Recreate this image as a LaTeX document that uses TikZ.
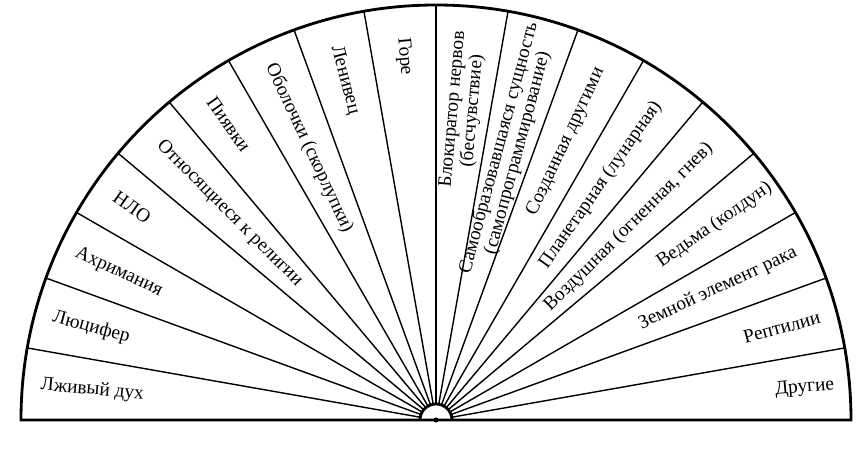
\documentclass[tikz,border=0pt]{standalone}
\usepackage{fontspec}
\setmainfont{Liberation Serif}
\usetikzlibrary{calc}
\tikzset{
  rim/.style={line width=1.6pt},
  spoke/.style={line width=0.8pt},
  sectorlabel/.style={font=\fontsize{11}{10}\selectfont, inner sep=1pt, align=center},
}

\begin{document}
\begin{tikzpicture}
			%%%%% FRAME %%%%%
			\useasboundingbox (-8.72, -0.72) rectangle (8.58, 8.4);
			
			\draw[rim] (-8.3, 0) -- (8.3, 0) arc (0:180:8.3) -- cycle;
			\draw[rim] (0.32, 0) arc (0:180:0.32);
			\fill (0, 0) circle (0.05);
			
			%%%%% SPOKES %%%%%
			\draw[spoke] (10:0.32) -- (10:8.3);
			\draw[spoke] (20:0.32) -- (20:8.3);
			\draw[spoke] (30:0.32) -- (30:8.3);
			\draw[spoke] (40:0.32) -- (40:8.3);
			\draw[spoke] (50:0.32) -- (50:8.3);
			\draw[spoke] (60:0.32) -- (60:8.3);
			\draw[spoke] (70:0.32) -- (70:8.3);
			\draw[spoke] (80:0.32) -- (80:8.3);
			\draw[spoke] (90:0.32) -- (90:8.3);
			\draw[spoke] (100:0.32) -- (100:8.3);
			\draw[spoke] (110:0.32) -- (110:8.3);
			\draw[spoke] (120:0.32) -- (120:8.3);
			\draw[spoke] (130:0.32) -- (130:8.3);
			\draw[spoke] (140:0.32) -- (140:8.3);
			\draw[spoke] (150:0.32) -- (150:8.3);
			\draw[spoke] (160:0.32) -- (160:8.3);
			\draw[spoke] (170:0.32) -- (170:8.3);
			
			%%%%% LEFT HALF %%%%%
			\node[sectorlabel, rotate=-5] (lzhivyj) at (175:6.9) {Лживый дух};
			\node[sectorlabel, rotate=-15] (lyucifer) at (165:7.14) {Люцифер};
			\node[sectorlabel, rotate=-25] (ahrimaniya) at (155:7.0) {Ахримания};
			\node[sectorlabel, rotate=-35] (nlo) at (145:7.42) {НЛО};
			\node[sectorlabel, rotate=-45] (religiya) at (135:5.84) {Относящиеся к религии};
			\node[sectorlabel, rotate=-55] (piyavki) at (125:7.22) {Пиявки};
			\node[sectorlabel, rotate=-65] (obolochki) at (115:6.0) {Оболочки (скорлупки)};
			\node[sectorlabel, rotate=-75] (lenivec) at (105:7.04) {Ленивец};
			\node[sectorlabel, rotate=-85] (gore) at (95:7.3) {Горе};
			
			%%%%% RIGHT HALF %%%%%
			\node[sectorlabel, rotate=85] (blokirator) at (85:6.22) {Блокиратор нервов\\(бесчувствие)};
			\node[sectorlabel, rotate=75] (samoobraz) at (75:5.58) {Самообразовавшаяся сущность\\(самопрограммирование)};
			\node[sectorlabel, rotate=65] (sozdannaya) at (65:6.14) {Созданная другими};
			\node[sectorlabel, rotate=55] (planetarnaya) at (55:5.74) {Планетарная (лунарная)};
			\node[sectorlabel, rotate=45] (vozdushnaya) at (45:5.45) {Воздушная (огненная, гнев)};
			\node[sectorlabel, rotate=35] (vedma) at (35:6.8) {Ведьма (колдун)};
			\node[sectorlabel, rotate=25] (zemnoj) at (25:6.22) {Земной элемент рака};
			\node[sectorlabel, rotate=15] (reptilii) at (15:7.16) {Рептилии};
			\node[sectorlabel, rotate=5] (drugie) at (5:7.4) {Другие};
			
			%%%%% END %%%%%
\end{tikzpicture}
\end{document}
